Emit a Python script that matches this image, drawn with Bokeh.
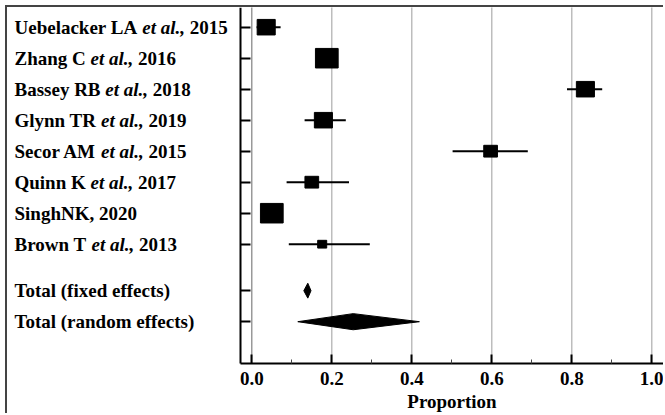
import numpy as np
from bokeh.plotting import figure
from bokeh.models import Range1d, FixedTicker, ColumnDataSource
from bokeh.core.properties import value
from bokeh.embed import file_html
from bokeh.resources import INLINE

# ---------------- data ----------------
authors = ["Uebelacker LA", "Zhang C", "Bassey RB", "Glynn TR",
           "Secor AM", "Quinn K", "SinghNK,", "Brown T"]
has_etal = [True, True, True, True, True, True, False, True]
years = ["2015", "2016", "2018", "2019", "2015", "2017", "2020", "2013"]
est = [0.036, 0.1875, 0.834, 0.179, 0.597, 0.150, 0.050, 0.176]
ci_lo = [0.012, 0.168, 0.788, 0.132, 0.502, 0.087, 0.033, 0.0925]
ci_hi = [0.072, 0.210, 0.876, 0.235, 0.690, 0.243, 0.070, 0.295]
weight = [13.2, 20.9, 13.2, 13.2, 7.6, 7.6, 20.9, 3.3]

pooled_labels = ["Total (fixed effects)", "Total (random effects)"]
pooled_est = [0.140, 0.2535]
pooled_lo = [0.130, 0.115]
pooled_hi = [0.148, 0.419]

x_ticks = [0.0, 0.2, 0.4, 0.6, 0.8, 1.0]
x_minor = [0.1, 0.3, 0.5, 0.7, 0.9]
x_title = "Proportion"

# ---------------- layout ----------------
FONT = "Liberation Serif"
FS = 19
BOLD_W = {"A": 722, "B": 667, "C": 722, "G": 778, "K": 778, "L": 667, "M": 944,
          "N": 722, "Q": 778, "R": 722, "S": 556, "T": 667, "U": 722, "Z": 667,
          "a": 500, "b": 556, "c": 444, "e": 444, "g": 500, "h": 556, "i": 278,
          "k": 556, "l": 278, "n": 556, "o": 500, "r": 444, "s": 389, "u": 556,
          "w": 722, "y": 500, " ": 250, ",": 250, ".": 250}
BI_W = {"e": 444, "t": 278, "a": 500, "l": 278, ".": 250, ",": 250, " ": 250}


def twidth(s, table):
    return sum(table.get(ch, 500) for ch in s) * FS / 1000.0


W, H = 658, 408
PX_X = 400.0          # px per unit of proportion
PX_Y = 31.0           # px per row
X0_PX = 244.3         # px of x = 0 from left
R0_PX = 19.7          # px of row 0 from top
AXIS_PX = 356.0       # px of x-axis line from top
x_start = -X0_PX / PX_X
x_end = x_start + (W - 2) / PX_X
y_top = -R0_PX / PX_Y
y_bot = y_top + H / PX_Y
x_axis_loc = y_top + AXIS_PX / PX_Y
y_axis_loc = x_start + 233 / PX_X
label_x = x_start + 7 / PX_X
title_y = y_top + 393.5 / PX_Y

n = len(authors)
rows = list(range(n))
pooled_rows = [n + 0.5, n + 1.5]
sizes = [4.97 * np.sqrt(w) for w in weight]
heights = [0.86 * s for s in sizes]

p = figure(width=W, height=H, output_backend="svg", toolbar_location=None,
           x_range=Range1d(x_start, x_end), y_range=Range1d(y_bot, y_top),
           min_border_left=0, min_border_right=2, min_border_top=0,
           min_border_bottom=0)
p.styles = {"margin-left": "5px", "margin-top": "5px",
            "border-left": "2px solid #444444", "border-top": "2px solid #444444"}
p.outline_line_color = None
p.background_fill_color = "white"
p.border_fill_color = "white"
p.xgrid.visible = False
p.ygrid.visible = False

# dotted vertical grid lines (limited to the plotting area)
gsrc = ColumnDataSource(dict(x=x_ticks, y0=[y_top] * len(x_ticks), y1=[x_axis_loc] * len(x_ticks),
                             c=["#000000" if t == 0 else "#5a5a5a" for t in x_ticks]))
p.segment(x0="x", y0="y0", x1="x", y1="y1", source=gsrc, line_color="c",
          line_dash="1 1", line_width=1.2)

# x axis
xa = p.xaxis[0]
xa.fixed_location = x_axis_loc
xa.bounds = (y_axis_loc, x_end)
xa.ticker = FixedTicker(ticks=x_ticks, minor_ticks=x_minor)
xa.major_label_overrides = {t: f"{t:.1f}" for t in x_ticks}
xa.axis_line_width = 2
xa.axis_line_color = "black"
xa.major_tick_line_width = 2
xa.major_tick_in = 9
xa.major_tick_out = 0
xa.minor_tick_in = 4
xa.minor_tick_out = 0
xa.minor_tick_line_color = "#444444"
xa.minor_tick_line_width = 1
xa.major_label_text_font = FONT
xa.major_label_text_font_style = "bold"
xa.major_label_text_font_size = f"{FS}px"
xa.major_label_text_color = "black"
xa.major_label_standoff = 8

# y axis
ya = p.yaxis[0]
ya.fixed_location = y_axis_loc
ya.bounds = (y_top, x_axis_loc)
ya.ticker = FixedTicker(ticks=rows + pooled_rows)
ya.axis_line_width = 2
ya.axis_line_color = "black"
ya.major_tick_line_width = 2
ya.major_tick_in = 10
ya.major_tick_out = 0
ya.minor_tick_line_color = None
ya.major_label_standoff = 0
ya.major_label_overrides = {r: "" for r in rows + pooled_rows}

# study marks
src = ColumnDataSource(dict(x=est, y=rows, lo=ci_lo, hi=ci_hi, w=sizes, h=heights))
p.segment(x0="lo", y0="y", x1="hi", y1="y", source=src, line_color="black", line_width=2)
p.rect(x="x", y="y", width="w", height="h", width_units="screen", height_units="screen",
       source=src, fill_color="black", line_color="black")

# pooled diamonds
HALF = [0.24, 0.26]
xs, ys = [], []
for e, l, h, r, hh in zip(pooled_est, pooled_lo, pooled_hi, pooled_rows, HALF):
    xs.append([l, e, h, e])
    ys.append([r, r - hh, r, r + hh])
p.patches(xs, ys, fill_color="black", line_color="black", line_width=1)

# row labels: bold text with bold-italic "et al.,"  (spaces handled via offsets,
# because SVG collapses leading/trailing blanks)
groups = {"bold": dict(x=[], y=[], t=[], o=[]), "bold italic": dict(x=[], y=[], t=[], o=[])}
for a, etal, yr, r in zip(authors, has_etal, years, rows):
    if etal:
        segs = [(a + " ", "bold", BOLD_W), ("et al., ", "bold italic", BI_W),
                (yr, "bold", BOLD_W)]
    else:
        segs = [(a + " " + yr, "bold", BOLD_W)]
    off = 0.0
    for t, style, tbl in segs:
        g = groups[style]
        g["x"].append(label_x); g["y"].append(r); g["t"].append(t.strip()); g["o"].append(off)
        off += twidth(t, tbl)
for t, r in zip(pooled_labels, pooled_rows):
    g = groups["bold"]
    g["x"].append(label_x); g["y"].append(r); g["t"].append(t); g["o"].append(0.0)

for style, g in groups.items():
    p.text(x="x", y="y", text="t", x_offset="o", source=ColumnDataSource(g),
           text_font=value(FONT), text_font_style=style, text_font_size=f"{FS}px",
           text_baseline="middle", text_align="left", text_color="black")

# x axis title
p.text(x=[(y_axis_loc + x_end) / 2], y=[title_y], text=[x_title], text_font=value(FONT),
       text_font_style="bold", text_font_size=f"{FS}px", text_baseline="middle",
       text_align="center", text_color="black")

open("out.html", "w").write(file_html(p, INLINE))
